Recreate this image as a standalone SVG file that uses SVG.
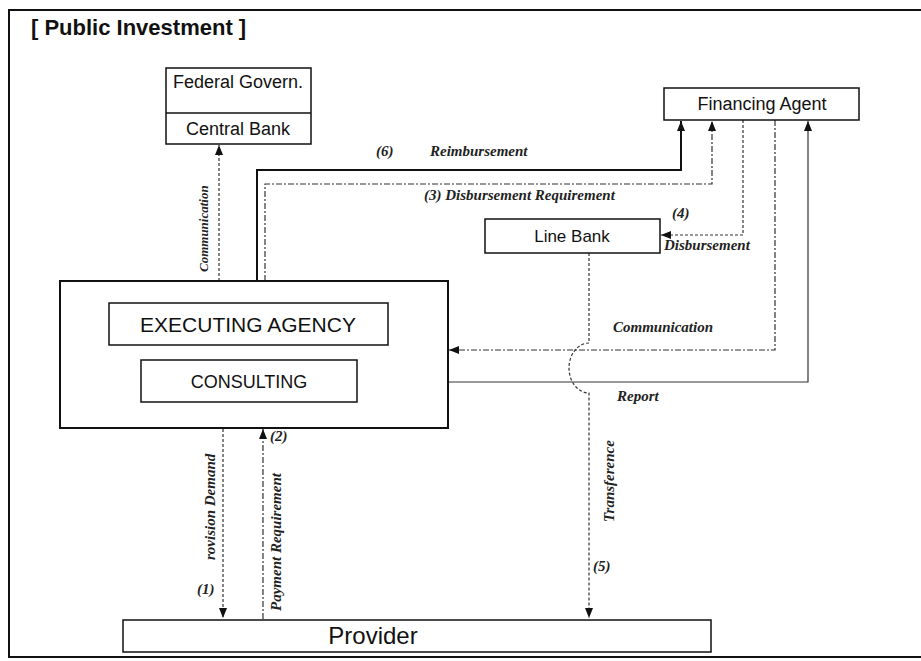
<svg xmlns="http://www.w3.org/2000/svg" width="921" height="661" viewBox="0 0 921 661">
<style>
.box{fill:#fff;stroke:#111;stroke-width:1.5}
.bl{font-family:"Liberation Sans",Arial,sans-serif;fill:#111;text-anchor:middle}
.lb{font-family:"Liberation Serif","Times New Roman",serif;font-style:italic;font-weight:bold;font-size:15px;fill:#222}
.c{fill:none;stroke:#333;stroke-width:1.2}
.dot{stroke-dasharray:3,2}
.dash{stroke-dasharray:6,2,2,2}
</style>
<defs>
<marker id="ah" markerUnits="userSpaceOnUse" markerWidth="10" markerHeight="10" viewBox="0 0 10 10" refX="10" refY="5" orient="auto">
<path d="M0,1 L10,5 L0,9 Z" fill="#111"/>
</marker>
</defs>
<rect width="921" height="661" fill="#fff"/>
<path d="M921,10 H9 V657 H921" fill="none" stroke="#111" stroke-width="2"/>
<text x="31" y="35" font-family="Liberation Sans,Arial,sans-serif" font-weight="bold" font-size="22" fill="#111">[ Public Investment ]</text>

<g id="connectors">
<path class="c dot" d="M219,281 V145" marker-end="url(#ah)"/>
<path class="c" d="M257,281 V170 H681 V121" marker-end="url(#ah)" style="stroke:#111;stroke-width:2"/>
<path class="c dash" d="M265,281 V184 H712 V121" marker-end="url(#ah)"/>
<path class="c dot" d="M743,120 V235 H661" marker-end="url(#ah)"/>
<path class="c dash" d="M775,120 V350 H449" marker-end="url(#ah)"/>
<path class="c" d="M449,382 H808 V121" marker-end="url(#ah)"/>
<path class="c dot" d="M589,253 V343 A20,25 0 0 0 589,393 V618" marker-end="url(#ah)"/>
<path class="c dot" d="M223,429 V618" marker-end="url(#ah)"/>
<path class="c dash" d="M263,619 V429" marker-end="url(#ah)"/>
</g>

<g id="labels">
<text class="lb" x="376" y="156">(6)</text>
<text class="lb" x="430" y="156">Reimbursement</text>
<text class="lb" x="424" y="200">(3) Disbursement Requirement</text>
<text class="lb" x="672" y="218">(4)</text>
<text class="lb" x="664" y="250">Disbursement</text>
<text class="lb" x="613" y="332">Communication</text>
<text class="lb" x="617" y="401">Report</text>
<text class="lb" x="593" y="571">(5)</text>
<text class="lb" x="197" y="594">(1)</text>
<text class="lb" x="270" y="441">(2)</text>
<text class="lb" style="font-size:13px" transform="translate(208,272) rotate(-90)">Communication</text>
<text class="lb" transform="translate(215,560) rotate(-90)">rovision Demand</text>
<text class="lb" transform="translate(281,611) rotate(-90)">Payment Requirement</text>
<text class="lb" transform="translate(614,522) rotate(-90)">Transference</text>
</g>

<g id="federal-govern">
<rect class="box" x="166" y="68" width="145" height="76"/>
<line x1="166" y1="113" x2="311" y2="113" stroke="#111" stroke-width="1.5"/>
<text class="bl" x="238" y="88" font-size="18">Federal Govern.</text>
<text class="bl" x="238" y="135" font-size="18">Central Bank</text>
</g>

<g id="financing-agent">
<rect class="box" x="664" y="88" width="195" height="32"/>
<text class="bl" x="762" y="110" font-size="18">Financing Agent</text>
</g>

<g id="line-bank">
<rect class="box" x="485" y="219" width="175" height="34"/>
<text class="bl" x="572" y="242" font-size="17">Line Bank</text>
</g>

<g id="executing-agency">
<rect class="box" x="60" y="281" width="388" height="147" style="stroke-width:2"/>
<rect class="box" x="109" y="303" width="279" height="42"/>
<text class="bl" x="248" y="332" font-size="21">EXECUTING AGENCY</text>
<rect class="box" x="141" y="360" width="216" height="42"/>
<text class="bl" x="249" y="388" font-size="18">CONSULTING</text>
</g>

<g id="provider">
<rect class="box" x="123" y="620" width="588" height="32"/>
<text class="bl" x="373" y="644" font-size="24">Provider</text>
</g>
</svg>
